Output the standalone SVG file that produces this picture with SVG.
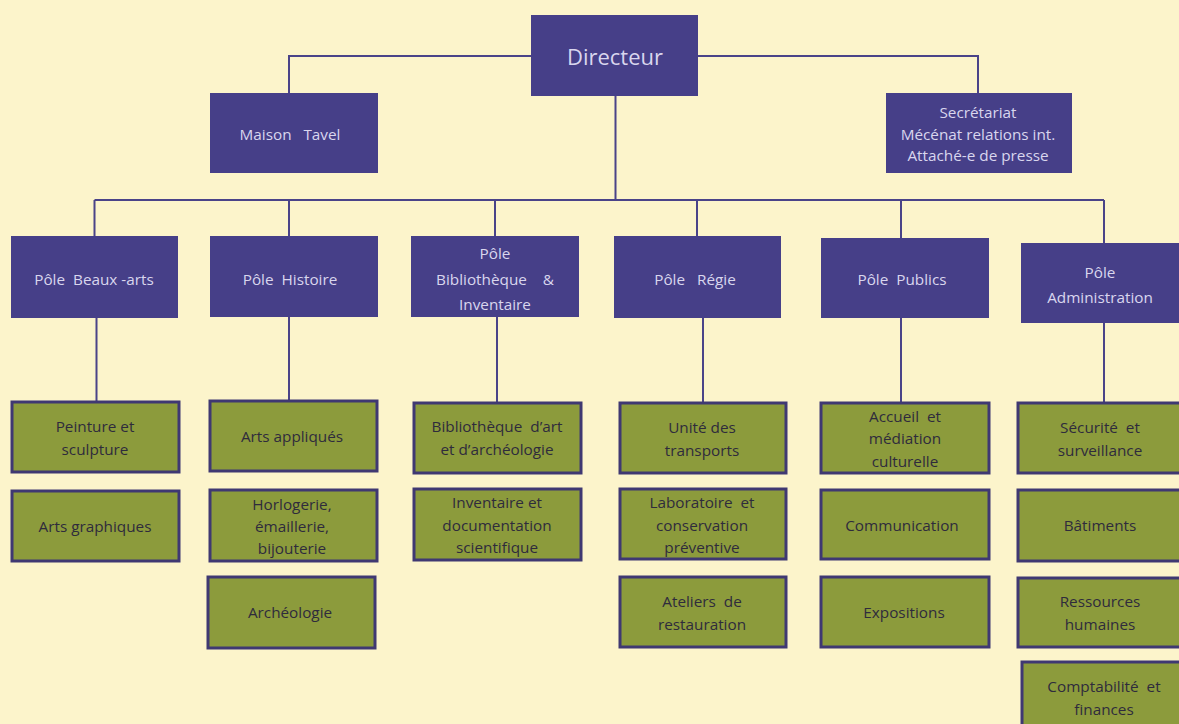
<svg xmlns="http://www.w3.org/2000/svg" width="1179" height="724" viewBox="0 0 1179 724">
<style>
.bg{fill:#fcf4cb}
.p rect{fill:#463f88}
.p text{fill:#d9d6ee;font-family:"Open Sans","Noto Sans",sans-serif;font-size:15.3px;text-anchor:middle;white-space:pre}
.g rect{fill:#8c9b3c;stroke:#3f3872;stroke-width:3}
.g text{fill:#2f2b3c;font-family:"Open Sans","Noto Sans",sans-serif;font-size:15.3px;text-anchor:middle;white-space:pre}
.c{fill:none;stroke:#4a4388;stroke-width:2}
</style>
<rect class="bg" x="0" y="0" width="1179" height="724"/>
<g id="connectors" class="c">
<path d="M531 56 H289 V93"/>
<path d="M698 56 H978 V93"/>
<path d="M615.5 96 V200"/>
<path d="M94.5 200 H1104"/>
<path d="M94.5 200 V236 M289 200 V236 M495 200 V236 M697 200 V236 M901 200 V238 M1104 200 V243"/>
<path d="M96.5 318 V402 M289 317 V401 M497 317 V403 M703 318 V403 M901 318 V403 M1104 323 V403"/>
</g>
<g id="directeur" class="p"><rect x="531" y="15" width="167" height="81"/><text x="615" y="65" style="font-size:22px">Directeur</text></g>
<g id="maison-tavel" class="p"><rect x="210" y="93" width="168" height="80"/><text x="290" y="140">Maison   Tavel</text></g>
<g id="secretariat" class="p"><rect x="886" y="93" width="186" height="80"/><text x="978" y="118">Secrétariat</text><text x="978" y="140">Mécénat relations int.</text><text x="978" y="161">Attaché-e de presse</text></g>
<g id="pole-beaux-arts" class="p"><rect x="11" y="236" width="167" height="82"/><text x="94" y="285">Pôle  Beaux -arts</text></g>
<g id="pole-histoire" class="p"><rect x="210" y="236" width="168" height="81"/><text x="290" y="285">Pôle  Histoire</text></g>
<g id="pole-bibliotheque" class="p"><rect x="411" y="236" width="168" height="81"/><text x="495" y="259">Pôle</text><text x="495" y="285">Bibliothèque    &amp;</text><text x="495" y="310">Inventaire</text></g>
<g id="pole-regie" class="p"><rect x="614" y="236" width="167" height="82"/><text x="695" y="285">Pôle   Régie</text></g>
<g id="pole-publics" class="p"><rect x="821" y="238" width="168" height="80"/><text x="902" y="285">Pôle  Publics</text></g>
<g id="pole-administration" class="p"><rect x="1021" y="243" width="170" height="80"/><text x="1100" y="278">Pôle</text><text x="1100" y="303">Administration</text></g>
<g id="peinture" class="g"><rect x="12" y="402" width="167" height="70"/><text x="95" y="432">Peinture et</text><text x="95" y="455">sculpture</text></g>
<g id="arts-graphiques" class="g"><rect x="12" y="491" width="167" height="70"/><text x="95" y="532">Arts graphiques</text></g>
<g id="arts-appliques" class="g"><rect x="210" y="401" width="167" height="70"/><text x="292" y="442">Arts appliqués</text></g>
<g id="horlogerie" class="g"><rect x="210" y="490" width="167" height="71"/><text x="292" y="510">Horlogerie,</text><text x="292" y="532">émaillerie,</text><text x="292" y="554">bijouterie</text></g>
<g id="archeologie" class="g"><rect x="208" y="577" width="167" height="71"/><text x="290" y="618">Archéologie</text></g>
<g id="bibliotheque-art" class="g"><rect x="414" y="403" width="167" height="70"/><text x="497" y="432">Bibliothèque  d’art</text><text x="497" y="455">et d’archéologie</text></g>
<g id="inventaire" class="g"><rect x="414" y="489" width="167" height="71"/><text x="497" y="508">Inventaire et</text><text x="497" y="531">documentation</text><text x="497" y="553">scientifique</text></g>
<g id="unite-transports" class="g"><rect x="620" y="403" width="166" height="70"/><text x="702" y="433">Unité des</text><text x="702" y="456">transports</text></g>
<g id="laboratoire" class="g"><rect x="620" y="489" width="166" height="70"/><text x="702" y="508">Laboratoire  et</text><text x="702" y="531">conservation</text><text x="702" y="553">préventive</text></g>
<g id="ateliers" class="g"><rect x="620" y="577" width="166" height="70"/><text x="702" y="607">Ateliers  de</text><text x="702" y="630">restauration</text></g>
<g id="accueil" class="g"><rect x="821" y="403" width="168" height="70"/><text x="905" y="422">Accueil  et</text><text x="905" y="444">médiation</text><text x="905" y="467">culturelle</text></g>
<g id="communication" class="g"><rect x="821" y="490" width="168" height="69"/><text x="902" y="531">Communication</text></g>
<g id="expositions" class="g"><rect x="821" y="577" width="168" height="70"/><text x="904" y="618">Expositions</text></g>
<g id="securite" class="g"><rect x="1018" y="403" width="170" height="70"/><text x="1100" y="433">Sécurité  et</text><text x="1100" y="456">surveillance</text></g>
<g id="batiments" class="g"><rect x="1018" y="490" width="170" height="71"/><text x="1100" y="531">Bâtiments</text></g>
<g id="ressources" class="g"><rect x="1018" y="578" width="170" height="69"/><text x="1100" y="607">Ressources</text><text x="1100" y="630">humaines</text></g>
<g id="comptabilite" class="g"><rect x="1022" y="662" width="170" height="70"/><text x="1104" y="692">Comptabilité  et</text><text x="1104" y="715">finances</text></g>
</svg>
